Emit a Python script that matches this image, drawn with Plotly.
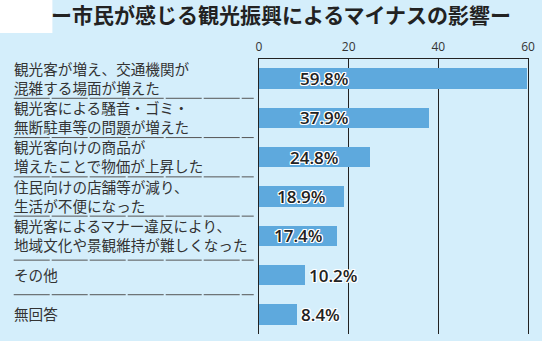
import plotly.graph_objects as go

# Survey: negative effects of tourism promotion felt by citizens (%)
categories = [
    "観光客が増え、交通機関が<br>混雑する場面が増えた",
    "観光客による騒音・ゴミ・<br>無断駐車等の問題が増えた",
    "観光客向けの商品が<br>増えたことで物価が上昇した",
    "住民向けの店舗等が減り、<br>生活が不便になった",
    "観光客によるマナー違反により、<br>地域文化や景観維持が難しくなった",
    "その他",
    "無回答",
]
values = [59.8, 37.9, 24.8, 18.9, 17.4, 10.2, 8.4]
x_ticks = [0, 20, 40, 60]
title_text = "ー市民が感じる観光振興によるマイナスの影響ー"

W, H = 542, 341
L, R, T, B = 259.3, 11.5, 59, 7
plot_w = W - L - R
plot_h = H - T - B

BG = "#d4eefb"
BAR = "#5ea9dd"
DARK = "#222222"
TXT = "#333333"
JP = "Noto Sans CJK JP"

idx = list(range(len(categories)))

fig = go.Figure(
    go.Bar(
        x=values,
        y=idx,
        orientation="h",
        width=0.52,
        marker=dict(color=BAR, line=dict(width=0)),
        hoverinfo="skip",
    )
)

def px_to_paper_x(px):
    return (px - L) / plot_w

def px_to_paper_y(py):
    return (H - B - py) / plot_h

annotations = []
shapes = []

# category labels, left aligned in the margin
for i, cat in enumerate(categories):
    annotations.append(dict(
        x=px_to_paper_x(10), xref="paper", xanchor="left", align="left",
        y=i, yref="y", yanchor="middle", yshift=1,
        text=cat, showarrow=False,
        font=dict(family=JP, size=14.6, color=TXT),
    ))

# value labels: inside the bar for long bars, outside for short ones
halo = ("1px 1px 0 #fff, -1px -1px 0 #fff, 1px -1px 0 #fff, -1px 1px 0 #fff,"
        " 0 1px 0 #fff, 0 -1px 0 #fff, 1px 0 0 #fff, -1px 0 0 #fff")
for i, v in enumerate(values):
    inside = v > 15
    annotations.append(dict(
        x=min(v / 2, 14.5) if inside else v,
        xref="x", xanchor="center" if inside else "left",
        xshift=0 if inside else 2,
        y=i, yref="y", yanchor="middle",
        text=f"{v:.1f}%", showarrow=False,
        font=dict(family="Open Sans", size=17, color=DARK, weight=600, shadow=halo),
    ))

# dashed separators between category rows
for i in range(len(categories) - 1):
    yb = i + 0.5
    if "<br>" in categories[i] and "<br>" not in categories[i + 1]:
        yb += 0.12  # keep clear of the two-line label above
    shapes.append(dict(
        type="line", xref="paper", yref="y",
        x0=px_to_paper_x(12), x1=px_to_paper_x(254), y0=yb, y1=yb,
        line=dict(color="#555555", width=1, dash="36px,2px"),
        layer="above",
    ))

# white corner beside the title band
shapes.append(dict(
    type="rect", xref="paper", yref="paper",
    x0=px_to_paper_x(-2), x1=px_to_paper_x(51),
    y0=px_to_paper_y(33), y1=px_to_paper_y(-2),
    fillcolor="#ffffff", line=dict(width=0), layer="below",
))

fig.update_layout(
    width=W, height=H,
    margin=dict(l=L, r=R, t=T, b=B, pad=0),
    paper_bgcolor=BG, plot_bgcolor=BG,
    showlegend=False,
    bargap=0,
    title=dict(
        text=title_text, xref="container", yref="container",
        x=281 / W, xanchor="center", y=1 - 16 / H, yanchor="middle",
        font=dict(family=JP, size=21, color=DARK, weight="bold"),
    ),
    xaxis=dict(
        side="top", range=[0, 60], tickvals=x_ticks,
        ticks="", showgrid=True, gridcolor=DARK, gridwidth=1.3,
        zeroline=False, showline=True, linecolor=DARK, linewidth=1.3,
        tickfont=dict(family="Open Sans", size=12, color=TXT),
        ticklabelstandoff=2,
        fixedrange=True,
    ),
    yaxis=dict(
        range=[len(categories) - 0.5, -0.5], showticklabels=False,
        showgrid=False, zeroline=False, ticks="",
        showline=True, mirror=True, linecolor=DARK, linewidth=1.3,
        fixedrange=True,
    ),
    annotations=annotations,
    shapes=shapes,
)

fig.write_html("out.html", config={"displayModeBar": False})
